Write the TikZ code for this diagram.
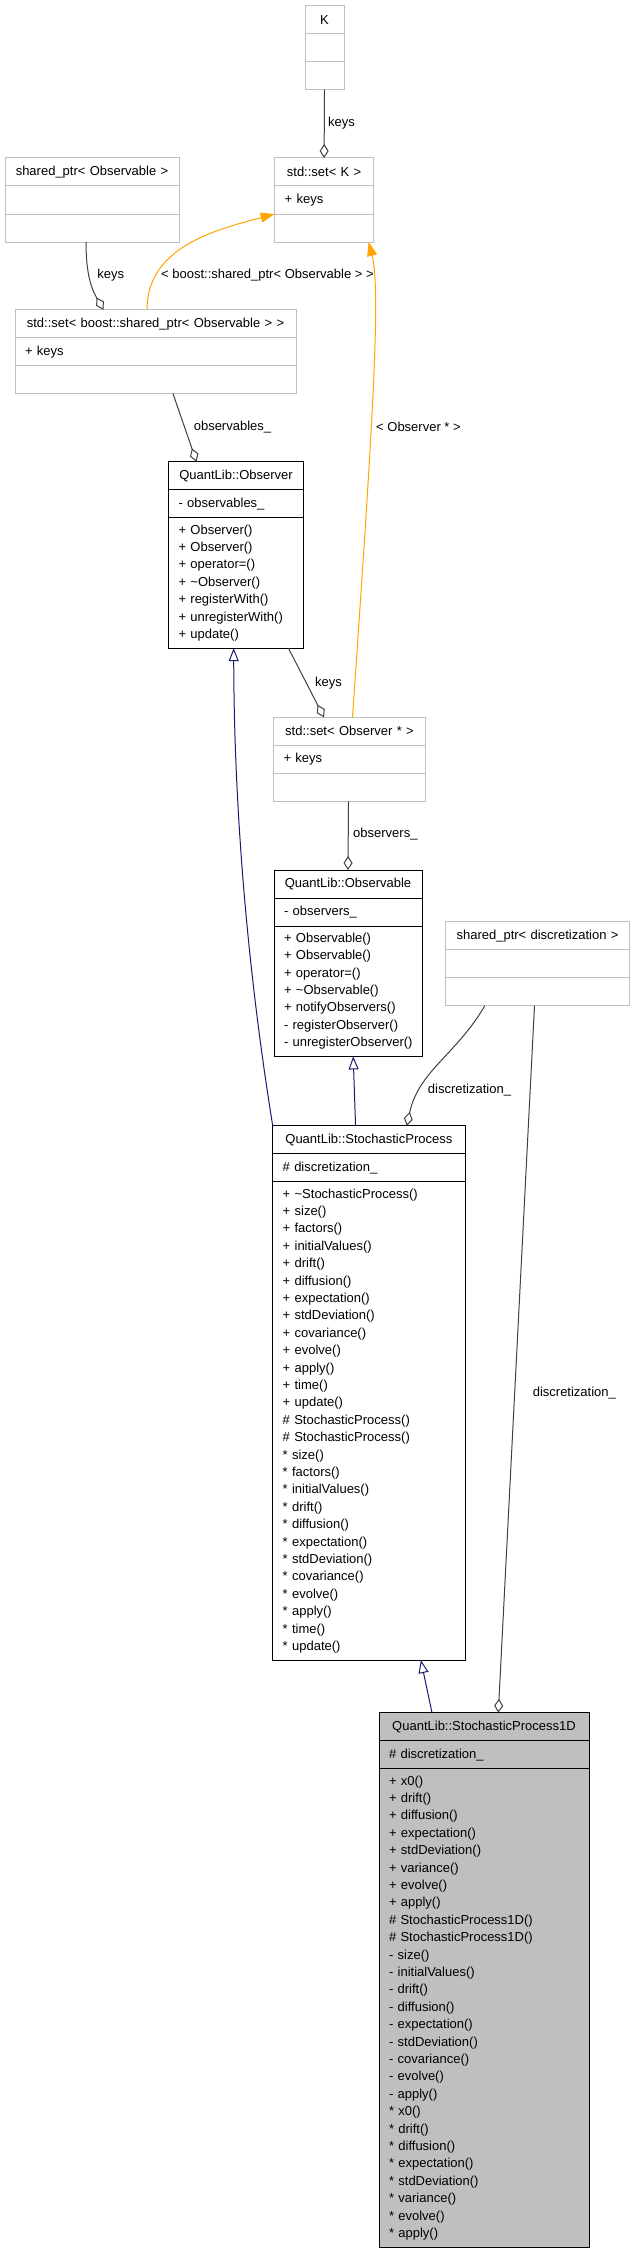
\documentclass[tikz,border=0pt]{standalone}
\usepackage{fontspec}
\setmainfont{Liberation Sans}
\usetikzlibrary{positioning,arrows.meta}
\definecolor{grey75}{HTML}{BFBFBF}
\definecolor{grey25}{HTML}{404040}
\definecolor{midnight}{HTML}{191970}
\definecolor{dxorange}{HTML}{FFA500}
\hyphenpenalty=10000
\exhyphenpenalty=10000
\begin{document}
\begin{tikzpicture}[x=1pt,y=-1pt,font=\fontsize{13}{17.4}\selectfont]
\tikzstyle{cls}=[line width=1pt,outer sep=0pt,inner xsep=10pt,inner ysep=2pt,minimum height=28pt,align=left]
\tikzstyle{ext}=[cls,draw=grey75]
\tikzstyle{doc}=[cls,draw=black]
\tikzstyle{hd}=[align=center,anchor=north west]
\tikzstyle{member}=[grey25,line width=1pt,-{Diamond[open,length=14pt,width=9pt]}]
\tikzstyle{inherit}=[midnight,line width=1pt,-{Triangle[open,length=13pt,width=10pt]}]
\tikzstyle{templ}=[dxorange,line width=1pt,-{Triangle[length=14pt,width=10pt]}]
\tikzstyle{lbl}=[inner sep=0pt,anchor=west]
\useasboundingbox (0,0) rectangle (635,2253);
% template parameter and sets
\node[ext,hd,text width=19pt] (k) at (305,5.7) {K};
\node[ext,text width=19pt,below=0pt of k] (kA) {};
\node[ext,text width=19pt,below=0pt of kA] (kM) {};
\node[ext,hd,text width=79pt] (setK) at (274.6,158) {std::set< K >};
\node[ext,text width=79pt,below=0pt of setK] (setKA) {+ keys};
\node[ext,text width=79pt,below=0pt of setKA] (setKM) {};
\node[ext,hd,text width=154pt] (spObs) at (5,158) {shared\_ptr< Observable >};
\node[ext,text width=154pt,below=0pt of spObs] (spObsA) {};
\node[ext,text width=154pt,below=0pt of spObsA] (spObsM) {};
\node[ext,hd,text width=261pt] (setSpObs) at (15,309.7) {std::set< boost::shared\_ptr< Observable > >};
\node[ext,text width=261pt,below=0pt of setSpObs] (setSpObsA) {+ keys};
\node[ext,text width=261pt,below=0pt of setSpObsA] (setSpObsM) {};
% observer
\node[doc,hd,text width=115pt] (observer) at (168.5,461.7) {QuantLib::Observer};
\node[doc,text width=115pt,below=0pt of observer] (observerA) {- observables\_};
\node[doc,text width=115pt,minimum height=130.4pt,below=0pt of observerA] (observerM) {+ Observer()\\+ Observer()\\+ operator=()\\+ \textasciitilde Observer()\\+ registerWith()\\+ unregisterWith()\\+ update()};
\node[ext,hd,text width=132pt] (setObsPtr) at (273.5,717.3) {std::set< Observer * >};
\node[ext,text width=132pt,below=0pt of setObsPtr] (setObsPtrA) {+ keys};
\node[ext,text width=132pt,below=0pt of setObsPtrA] (setObsPtrM) {};
% observable
\node[doc,hd,text width=128pt] (observable) at (274,870) {QuantLib::Observable};
\node[doc,text width=128pt,below=0pt of observable] (observableA) {- observers\_};
\node[doc,text width=128pt,minimum height=130.4pt,below=0pt of observableA] (observableM) {+ Observable()\\+ Observable()\\+ operator=()\\+ \textasciitilde Observable()\\+ notifyObservers()\\- registerObserver()\\-~unregisterObserver()};
\node[ext,hd,text width=164pt] (spDisc) at (445.5,921.7) {shared\_ptr< discretization >};
\node[ext,text width=164pt,below=0pt of spDisc] (spDiscA) {};
\node[ext,text width=164pt,below=0pt of spDiscA] (spDiscM) {};
% processes
\node[doc,hd,text width=172.3pt] (sp) at (272.7,1125.7) {QuantLib::StochasticProcess};
\node[doc,text width=172.3pt,below=0pt of sp] (spA) {\# discretization\_};
\node[doc,text width=172.3pt,minimum height=478.4pt,below=0pt of spA] (spM) {+ \textasciitilde StochasticProcess()\\+ size()\\+ factors()\\+ initialValues()\\+ drift()\\+ diffusion()\\+ expectation()\\+ stdDeviation()\\+ covariance()\\+ evolve()\\+ apply()\\+ time()\\+ update()\\\# StochasticProcess()\\\# StochasticProcess()\\{*} size()\\{*} factors()\\{*} initialValues()\\{*} drift()\\{*} diffusion()\\{*} expectation()\\{*} stdDeviation()\\{*} covariance()\\{*} evolve()\\{*} apply()\\{*} time()\\{*} update()};
\node[doc,hd,fill=grey75,text width=190pt] (sp1d) at (379,1712.7) {QuantLib::StochasticProcess1D};
\node[doc,fill=grey75,text width=190pt,below=0pt of sp1d] (sp1dA) {\# discretization\_};
\node[doc,fill=grey75,text width=190pt,minimum height=478.4pt,below=0pt of sp1dA] (sp1dM) {+ x0()\\+ drift()\\+ diffusion()\\+ expectation()\\+ stdDeviation()\\+ variance()\\+ evolve()\\+ apply()\\\# StochasticProcess1D()\\\# StochasticProcess1D()\\- size()\\- initialValues()\\- drift()\\- diffusion()\\- expectation()\\- stdDeviation()\\- covariance()\\- evolve()\\- apply()\\{*} x0()\\{*} drift()\\{*} diffusion()\\{*} expectation()\\{*} stdDeviation()\\{*} variance()\\{*} evolve()\\{*} apply()};
% connectors
\draw[member] (kM.south) -- (setK.north);
\draw[member] ([xshift=-6pt]spObsM.south) to[out=-90,in=120] ([xshift=-52pt]setSpObs.north);
\draw[templ] ([xshift=-8.5pt]setSpObs.north) to[out=90,in=195] (setKA.south west);
\draw[templ] ([xshift=3pt]setObsPtr.north) .. controls (373,420) and (381,290) .. ([xshift=44.5pt]setKM.south);
\draw[member] ([xshift=17.5pt]setSpObsM.south) -- ([xshift=-39.5pt]observer.north);
\draw[member] ([xshift=52.4pt]observerM.south) -- ([xshift=-25.5pt]setObsPtr.north);
\draw[member] ([xshift=-1pt]setObsPtrM.south) -- (observable.north);
\draw[inherit] (sp.north west) .. controls (246,960) and (234,800) .. ([xshift=-2.3pt]observerM.south);
\draw[inherit] ([xshift=-13.3pt]sp.north) -- ([xshift=5.2pt]observableM.south);
\draw[member] ([xshift=-52.7pt]spDiscM.south) to[out=-120,in=78] ([xshift=38pt]sp.north);
\draw[member] ([xshift=-3pt]spDiscM.south) -- ([xshift=14.3pt]sp1d.north);
\draw[inherit] ([xshift=-52pt]sp1d.north) -- ([xshift=52pt]spM.south);
% labels
\node[lbl] (lKeysK) at (328,123) {keys};
\node[lbl] (lKeysSp) at (97.2,275) {keys};
\node[lbl] (lTplSp) at (161,275) {< boost::shared\_ptr< Observable > >};
\node[lbl] (lTplObs) at (376,427) {< Observer * >};
\node[lbl] (lObservables) at (193.6,427) {observables\_};
\node[lbl] (lKeysObs) at (315,683) {keys};
\node[lbl] (lObservers) at (353,834) {observers\_};
\node[lbl] (lDiscSp) at (427.7,1090) {discretization\_};
\node[lbl] (lDiscSp1d) at (532.6,1393) {discretization\_};
\end{tikzpicture}
\end{document}
